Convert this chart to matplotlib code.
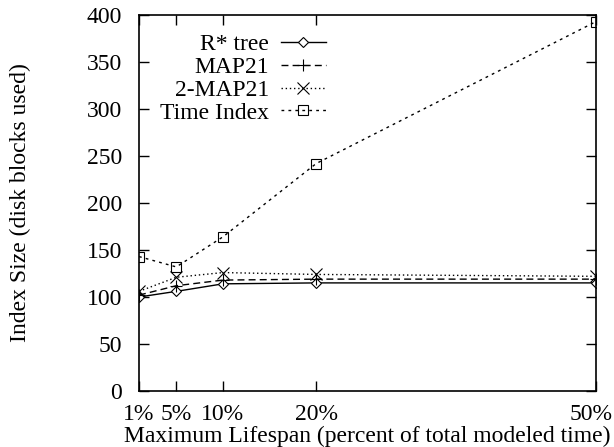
import matplotlib
matplotlib.use("Agg")
import matplotlib.pyplot as plt
import matplotlib.transforms as mtransforms

lifespan = [1, 5, 10, 20, 50]
tick_labels = ["1%", "5%", "10%", "20%", "50%"]
rstar = [100, 106, 114, 115, 115]
map21 = [102, 112, 118, 119, 119]
map21_2 = [106, 121, 126, 124, 122]
time_index = [143, 132, 164, 242, 393]

plt.rcParams['font.family'] = ['Liberation Serif', 'DejaVu Serif']
plt.rcParams['font.size'] = 17

fig = plt.figure(figsize=(6.14, 4.47), dpi=100)
ax = fig.add_axes([0.2264, 0.1253, 0.7443, 0.8411])

ax.plot(lifespan, rstar, color='black', lw=1.0, ls='-', marker='D', ms=5,
        mfc='white', mec='black', mew=0.8, label='R* tree')
ax.plot(lifespan, map21, color='black', lw=1.0, ls=(0, (5, 3)), marker='+', ms=9,
        mew=0.8, label='MAP21')
ax.plot(lifespan, map21_2, color='black', lw=1.0, ls=(0, (1, 2)), marker='x', ms=8,
        mew=0.8, label='2-MAP21')
ax.plot(lifespan, time_index, color='black', lw=1.0, ls=(0, (2, 3)), marker='s', ms=7,
        mfc='none', mec='black', mew=0.8, label='Time Index')

ax.set_xlim(1, 50)
ax.set_ylim(0, 400)
ax.set_xticks(lifespan)
ax.set_xticklabels(tick_labels)
ax.set_yticks(range(0, 401, 50))
ax.tick_params(direction='in', length=7, width=1, top=True, right=True)
ax.tick_params(axis='x', pad=9.5)
ax.tick_params(axis='y', pad=12)
for s in ax.spines.values():
    s.set_linewidth(1.2)

# nudge the last x tick label so it stays inside the figure
last = ax.get_xticklabels()[-1]
last.set_transform(last.get_transform() +
                   mtransforms.ScaledTranslation(-5 / 100, 0, fig.dpi_scale_trans))

ax.set_xlabel('Maximum Lifespan (percent of total modeled time)', labelpad=0.5)
ax.set_ylabel('Index Size (disk blocks used)')
ax.yaxis.set_label_coords(-0.237, 0.5)

leg = ax.legend(loc='upper left', bbox_to_anchor=(0.005, 1.0), frameon=False,
                markerfirst=False, handlelength=1.9, labelspacing=0.05,
                handletextpad=0.5, borderaxespad=0.4)
for t in leg.get_texts():
    t.set_ha('right')
leg._legend_box.align = 'right'

fig.savefig('out.png', dpi=100)
